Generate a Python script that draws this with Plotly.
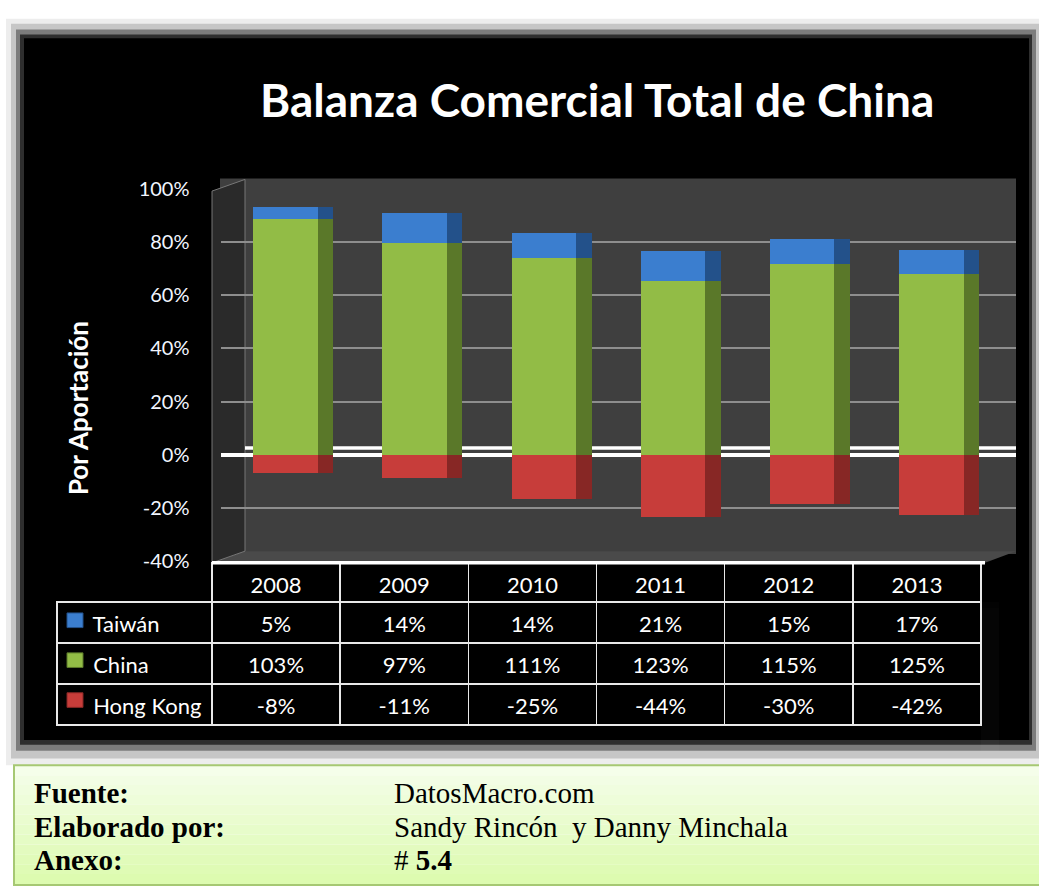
import plotly.graph_objects as go

# ---------------- data ----------------
years = ["2008", "2009", "2010", "2011", "2012", "2013"]
taiwan = [5, 14, 14, 21, 15, 17]
china = [103, 97, 111, 123, 115, 125]
hongkong = [-8, -11, -25, -44, -30, -42]
series_names = ["Taiwán", "China", "Hong Kong"]

y_tickvals = [-40, -20, 0, 20, 40, 60, 80, 100]
y_ticklabels = ["-40%", "-20%", "0%", "20%", "40%", "60%", "80%", "100%"]

title_text = "Balanza Comercial Total de China"
yaxis_title = "Por Aportación"
footer_labels = ["Fuente:", "Elaborado por:", "Anexo:"]
footer_values = ["DatosMacro.com", "Sandy Rincón  y Danny Minchala", "# <b>5.4</b>"]

# ---------------- styles ----------------
W, H = 1039, 895
front_colors = {"Taiwán": "#3b7ecf", "China": "#92bc46", "Hong Kong": "#c73d3a"}
side_colors = {"Taiwán": "#23518a", "China": "#5a7829", "Hong Kong": "#872725"}
FONT = "Lato"
NB = "\u00a0"


def px(x):
    return x / W


def py(y):
    return 1 - y / H


# 100% stacked (share of the sum of absolute contributions)
totals = [abs(a) + abs(b) + abs(c) for a, b, c in zip(taiwan, china, hongkong)]


def share(vals):
    return [100.0 * v / t for v, t in zip(vals, totals)]


series = {"Taiwán": taiwan, "China": china, "Hong Kong": hongkong}
stack_order = ["China", "Taiwán", "Hong Kong"]

fig = go.Figure()

# front faces
for name in stack_order:
    fig.add_trace(go.Bar(
        x=years, y=share(series[name]), name=name,
        marker=dict(color=front_colors[name], line=dict(width=0)),
        width=0.5, offset=-0.25, showlegend=False,
        xaxis="x", yaxis="y",
        hovertemplate="%{x}: " + name + "<extra></extra>",
    ))
# side faces (pseudo-3D) on an overlaying axis so they stack separately
for name in stack_order:
    fig.add_trace(go.Bar(
        x=years, y=share(series[name]), name=name + " lado",
        marker=dict(color=side_colors[name], line=dict(width=0)),
        width=0.12, offset=0.25, showlegend=False,
        xaxis="x2", yaxis="y", hoverinfo="skip",
    ))

# ---------------- data table ----------------
def fmt(v):
    return f"{v}%"


ncol = len(years) + 1
colwidths = [155] + [128.2] * len(years)
first_col = [NB * 5 + n.replace(" ", NB) for n in series_names]
table_cols = [first_col] + [[fmt(taiwan[i]), fmt(china[i]), fmt(hongkong[i])] for i in range(len(years))]
empty_cols = [["", "", ""] for _ in range(ncol)]

# grid (borders + fill)
fig.add_trace(go.Table(
    domain=dict(x=[px(57), px(981)], y=[py(770), py(565)]),
    columnwidth=colwidths,
    header=dict(
        values=[""] * ncol,
        fill=dict(color=["rgba(0,0,0,0)"] + ["#000000"] * len(years)),
        line=dict(color=["rgba(0,0,0,0)"] + ["#e8e8e8"] * len(years), width=1.5),
        height=39,
    ),
    cells=dict(
        values=empty_cols,
        fill=dict(color="#000000"),
        line=dict(color="#e8e8e8", width=1.5),
        height=41,
    ),
))
# text layer (slightly lowered to centre text vertically in the cells)
fig.add_trace(go.Table(
    domain=dict(x=[px(57), px(981)], y=[py(790), py(571)]),
    columnwidth=colwidths,
    header=dict(
        values=[""] + years,
        fill=dict(color="rgba(0,0,0,0)"),
        line=dict(color="rgba(0,0,0,0)", width=0),
        font=dict(family=FONT, size=22, color="#ffffff"),
        align="center", height=39,
    ),
    cells=dict(
        values=table_cols,
        fill=dict(color="rgba(0,0,0,0)"),
        line=dict(color="rgba(0,0,0,0)", width=0),
        font=dict(family=FONT, size=22, color="#ffffff"),
        align=["left"] + ["center"] * len(years), height=41,
    ),
))

# ---------------- decorative shapes ----------------
shapes = []
# panel with soft shadow
for (x0, y0, x1, y1, c) in [
    (6, 6, 1039, 773, "#ededed"),
    (11, 11, 1039, 766, "#c6c6c6"),
    (16, 17, 1036, 758, "#7c7c7c"),
    (20, 22, 1032, 752, "#2e2e2e"),
    (24, 26, 1029, 747, "#000000"),
]:
    shapes.append(dict(type="rect", xref="paper", yref="paper", x0=px(x0), x1=px(x1),
                       y0=py(y1), y1=py(y0), fillcolor=c, line=dict(width=0), layer="below"))
# back wall
shapes.append(dict(type="rect", xref="paper", yref="paper", x0=px(220), x1=px(1016),
                   y0=py(556), y1=py(170), fillcolor="#3f3f3f", line=dict(width=0), layer="below"))
# floor
shapes.append(dict(type="path", xref="paper", yref="paper",
                   path=f"M {px(212)},{py(565)} L {px(245)},{py(553)} L {px(1016)},{py(553)} L {px(985)},{py(565)} Z",
                   fillcolor="#4a4a4a", line=dict(width=0), layer="below"))
# left side wall
shapes.append(dict(type="path", xref="paper", yref="paper",
                   path=f"M {px(212)},{py(183)} L {px(245)},{py(171)} L {px(245)},{py(553)} L {px(212)},{py(565)} Z",
                   fillcolor="#2a2a2a", line=dict(color="#777777", width=1), layer="below"))
# back edge of the zero plane (3D depth)
shapes.append(dict(type="line", xref="paper", yref="paper", x0=px(245), x1=px(1016),
                   y0=py(447), y1=py(447), line=dict(color="#ffffff", width=3.5), layer="below"))
# thick white front edge above table
shapes.append(dict(type="line", xref="paper", yref="paper", x0=px(212), x1=px(985),
                   y0=py(565), y1=py(565), line=dict(color="#ffffff", width=3.5), layer="above"))
# legend keys in the table's first column
row_centers = [624, 665, 706]
for n, yc in zip(series_names, row_centers):
    shapes.append(dict(type="rect", xref="paper", yref="paper", x0=px(67), x1=px(83),
                       y0=py(yc + 7.5), y1=py(yc - 7.5), fillcolor=front_colors[n],
                       line=dict(color=side_colors[n], width=1), layer="above"))
# footer box with light gradient
n_bands = 12
top, bot = 773, 895
for i in range(n_bands):
    t = i / (n_bands - 1)
    r = int(0xf5 + (0xdd - 0xf5) * t)
    g = int(0xfe + (0xfb - 0xfe) * t)
    b = int(0xea + (0xb0 - 0xea) * t)
    y0b = top + (bot - top) * i / n_bands
    y1b = top + (bot - top) * (i + 1) / n_bands
    shapes.append(dict(type="rect", xref="paper", yref="paper", x0=px(14), x1=1,
                       y0=py(y1b), y1=py(y0b), fillcolor=f"rgb({r},{g},{b})",
                       line=dict(width=0), layer="below"))
shapes.append(dict(type="rect", xref="paper", yref="paper", x0=px(14), x1=px(1040),
                   y0=py(896), y1=py(773), fillcolor="rgba(0,0,0,0)",
                   line=dict(color="#a6c873", width=2), layer="below"))

# ---------------- annotations ----------------
annotations = [
    dict(text=f"<b>{title_text}</b>", x=px(597), y=py(89), xref="paper", yref="paper",
         showarrow=False, xanchor="center", yanchor="middle",
         font=dict(family=FONT, size=46, color="#ffffff")),
    dict(text=f"<b>{yaxis_title}</b>", x=px(78), y=py(406), xref="paper", yref="paper",
         showarrow=False, textangle=-90, xanchor="center", yanchor="middle",
         font=dict(family=FONT, size=26, color="#ffffff")),
]
for i, (lab, val) in enumerate(zip(footer_labels, footer_values)):
    yc = 802 + 34 * i
    annotations.append(dict(text=f"<b>{lab}</b>", x=px(32), y=py(yc), xref="paper", yref="paper",
                            showarrow=False, xanchor="left", yanchor="middle",
                            font=dict(family="Liberation Serif", size=29, color="#000000")))
    annotations.append(dict(text=val, x=px(392), y=py(yc), xref="paper", yref="paper",
                            showarrow=False, xanchor="left", yanchor="middle",
                            font=dict(family="Liberation Serif", size=29, color="#000000")))

fig.update_layout(
    width=W, height=H,
    margin=dict(l=0, r=0, t=0, b=0),
    paper_bgcolor="#ffffff",
    plot_bgcolor="rgba(0,0,0,0)",
    barmode="relative",
    bargap=0,
    showlegend=False,
    shapes=shapes,
    annotations=annotations,
    xaxis=dict(domain=[px(220.5), px(1016)], range=[-0.5, 5.66], showticklabels=False,
               showgrid=False, zeroline=False, showline=False, ticks=""),
    xaxis2=dict(domain=[px(220.5), px(1016)], range=[-0.5, 5.66], overlaying="x",
                matches="x", visible=False),
    yaxis=dict(domain=[py(563), py(181)], range=[-40, 100],
               tickvals=y_tickvals, ticktext=y_ticklabels,
               showgrid=True, gridcolor="#8e8e8e", gridwidth=1.5,
               zeroline=True, zerolinecolor="#ffffff", zerolinewidth=4,
               showline=False, ticks="", ticklabelstandoff=30,
               tickfont=dict(family=FONT, size=20, color="#f2f6ff")),
)

fig.write_html("out.html", config={"displayModeBar": False},
               post_script="document.body.style.margin='0';document.body.style.overflow='hidden';")
